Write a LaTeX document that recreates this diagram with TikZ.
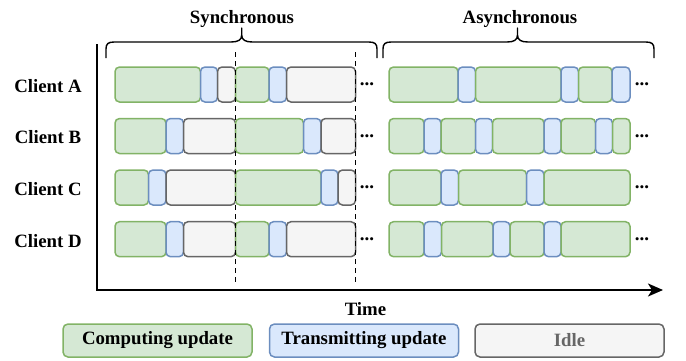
\documentclass[tikz,border=0pt]{standalone}
\usepackage{fontspec}
\setmainfont{Liberation Serif}
\usetikzlibrary{arrows.meta}
\definecolor{gfill}{HTML}{D5E8D4}
\definecolor{gline}{HTML}{82B366}
\definecolor{bfill}{HTML}{DAE8FC}
\definecolor{bline}{HTML}{6C8EBF}
\definecolor{ifill}{HTML}{F5F5F5}
\definecolor{iline}{HTML}{666666}
\tikzset{
  segG/.style={fill=gfill,draw=gline,line width=1.5pt,rounded corners=4.5pt},
  segB/.style={fill=bfill,draw=bline,line width=1.5pt,rounded corners=4.5pt},
  segI/.style={fill=ifill,draw=iline,line width=1.5pt,rounded corners=4.5pt},
  lbl/.style={font=\bfseries\fontsize{18.8}{20}\selectfont,inner sep=0pt,anchor=base},
  dots/.style={font=\bfseries\fontsize{19}{20}\selectfont,inner sep=0pt},
  sepline/.style={black,line width=1.4pt,dash pattern=on 5pt off 4pt},
  brace/.style={black,line width=1.4pt,line join=round},
  axis/.style={black,line width=1.8pt},
  legG/.style={segG,minimum width=189pt,minimum height=33pt,inner sep=0pt,rounded corners=5pt,font=\bfseries\fontsize{18.8}{20}\selectfont},
  legB/.style={legG,fill=bfill,draw=bline},
  legI/.style={legG,fill=ifill,draw=iline,text=iline},
}
\newcommand\crow[2]{\foreach \s/\a/\b in {#2} {\draw[\s] (\a,#1) rectangle (\b,#1+35);}}
\begin{document}
\begin{tikzpicture}[x=1pt,y=-1pt]
\useasboundingbox (0,0) rectangle (686,360);
% braces
\draw[brace] (106,58) -- (106,49) .. controls (106,44) and (108,42) .. (114,42)
  -- (231,42) .. controls (238,42) and (241.7,40) .. (241.7,35) -- (241.7,28)
  -- (241.7,35) .. controls (241.7,40) and (245.4,42) .. (252.4,42)
  -- (369,42) .. controls (375,42) and (377,44) .. (377,49) -- (377,58);
\draw[brace] (383,58) -- (383,49) .. controls (383,44) and (385,42) .. (391,42)
  -- (507,42) .. controls (514,42) and (517.5,40) .. (517.5,35) -- (517.5,28)
  -- (517.5,35) .. controls (517.5,40) and (521,42) .. (528,42)
  -- (646,42) .. controls (652,42) and (654,44) .. (654,49) -- (654,58);
\node[lbl] (sync) at (242,23) {Synchronous};
\node[lbl] (async) at (520,23) {Asynchronous};
% axis
\coordinate (ytop) at (97,44);
\coordinate (orig) at (97,290);
\coordinate (xend) at (663,290);
\draw[axis,-{Stealth[length=15pt,width=13pt,inset=4pt]}] (ytop) -- (orig) -- (xend);
\node[lbl] (time) at (365.5,315) {Time};
% client labels
\node[lbl] (ca) at (48,92) {Client A};
\node[lbl] (cb) at (48,143.5) {Client B};
\node[lbl] (cc) at (48,195) {Client C};
\node[lbl] (cd) at (48,247) {Client D};
% synchronous rows
\crow{67}{segG/115/200.5, segB/200.5/217.5, segI/217.5/235.5, segG/235.5/269, segB/269/286.5, segI/286.5/355.5}
\crow{118.5}{segG/115/166, segB/166/183.5, segI/183.5/235.5, segG/235.5/303.5, segB/303.5/321, segI/321/355.5}
\crow{170}{segG/115/148.5, segB/148.5/166, segI/166/235.5, segG/235.5/321, segB/321/338, segI/338/355.5}
\crow{221.7}{segG/115/166, segB/166/183.5, segI/183.5/235.5, segG/235.5/269, segB/269/286.5, segI/286.5/355.5}
% asynchronous rows
\crow{67}{segG/389/458, segB/458/475.5, segG/475.5/561, segB/561/578.5, segG/578.5/612, segB/612/630}
\crow{118.5}{segG/389/424, segB/424/441, segG/441/475.5, segB/475.5/492.5, segG/492.5/544, segB/544/561, segG/561/595.5, segB/595.5/612.5, segG/612.5/630}
\crow{170}{segG/389/441, segB/441/458.5, segG/458.5/526.5, segB/526.5/544, segG/544/630}
\crow{221.7}{segG/389/424, segB/424/441.5, segG/441.5/493, segB/493/510, segG/510/544, segB/544/561, segG/561/630}
% dashed separators
\draw[sepline] (235.5,52) -- (235.5,282);
\draw[sepline] (355.5,52) -- (355.5,282);
% dots
\foreach \y/\n in {84.5/a,136/b,187.5/c,239.2/d} {
  \node[dots] (ds\n) at (367,\y) {...};
  \node[dots] (da\n) at (642,\y) {...};
}
% legend
\node[legG] (lg) at (157.5,340.5) {Computing update};
\node[legB] (lb) at (364,340.5) {Transmitting update};
\node[legI] (li) at (569.5,340.5) {Idle};
\end{tikzpicture}
\end{document}
